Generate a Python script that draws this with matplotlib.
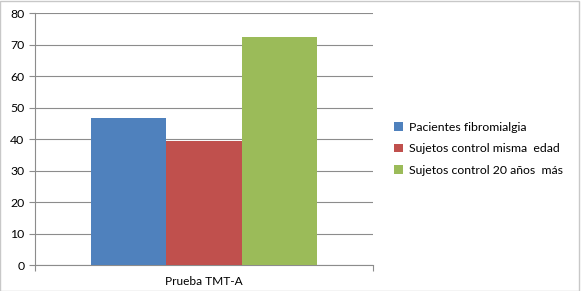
import matplotlib.pyplot as plt
from matplotlib.patches import Rectangle

plt.rcParams['font.family'] = ['Lato', 'DejaVu Sans']

# Data
category = 'Prueba TMT-A'
series = ['Pacientes fibromialgia', 'Sujetos control misma  edad', 'Sujetos control 20 años  más']
values = [46.6, 39.5, 72.3]
colors = ['#4f81bd', '#c0504d', '#9bbb59']

fig = plt.figure(figsize=(5.82, 2.91), dpi=100)
ax = fig.add_axes([0.060, 0.089, 0.581, 0.866])

bw = 0.222
offsets = [-bw, 0, bw]
for name, v, c, off in zip(series, values, colors, offsets):
    ax.bar(off, v, width=bw, color=c, label=name, zorder=3)

ax.set_xlim(-0.5, 0.5)
ax.set_ylim(0, 80)
ax.set_yticks(range(0, 81, 10))
ax.set_xticks([-0.5, 0.5], minor=False)
ax.set_xticklabels(['', ''])
ax.text(0, -0.045, category, transform=ax.get_xaxis_transform(), ha='center', va='top', fontsize=8.6)

grid_c = '#8c8c8c'
ax.grid(axis='y', color=grid_c, linewidth=0.8, zorder=0)
for s in ['top', 'right']:
    ax.spines[s].set_visible(False)
for s in ['left', 'bottom']:
    ax.spines[s].set_color(grid_c)
    ax.spines[s].set_linewidth(0.8)
ax.tick_params(axis='y', colors=grid_c, labelcolor='black', labelsize=8.8, length=4, width=0.8)
ax.tick_params(axis='x', colors=grid_c, length=4, width=0.8)

ax.legend(loc='center left', bbox_to_anchor=(1.03, 0.462), frameon=False, fontsize=8.8,
          handlelength=0.7, handleheight=0.7, handletextpad=0.5, labelspacing=0.85)

fig.patches.append(Rectangle((0, 0), 0.994, 0.997, transform=fig.transFigure,
                             fill=False, edgecolor='#c8c8c8', linewidth=1))

fig.savefig('out.png', dpi=100)
